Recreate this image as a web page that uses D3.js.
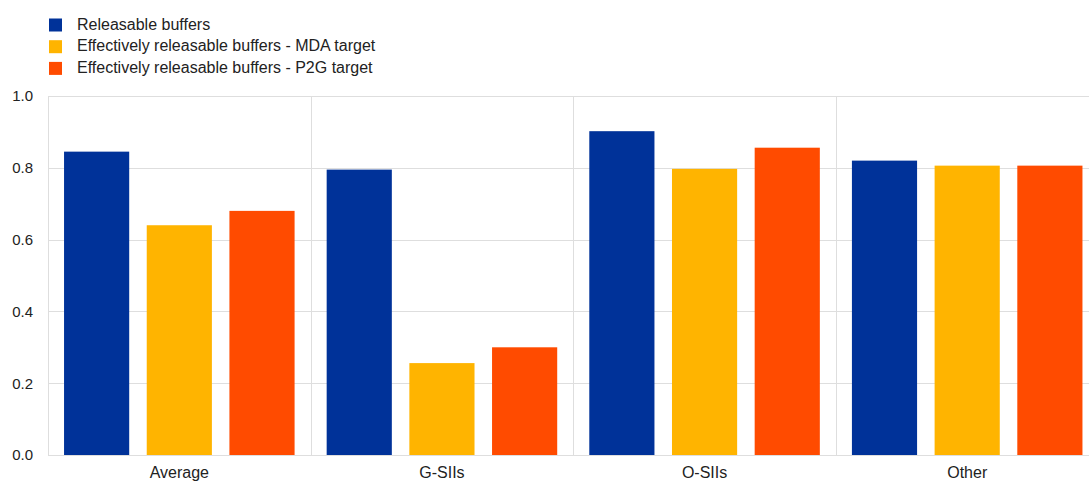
<!DOCTYPE html>
<html>
<head>
<meta charset="utf-8">
<script src="https://cdn.jsdelivr.net/npm/d3@7"></script>
<style>
  html, body { margin: 0; padding: 0; background: #fff; overflow: hidden; }
  svg { display: block; font-family: Arial, "Liberation Sans", sans-serif; }
</style>
</head>
<body>
<svg id="chart" width="1089" height="483"></svg>
<script>
// Bank groups on the x axis
const categories = ["Average", "G-SIIs", "O-SIIs", "Other"];
// Series names and their values per category
const seriesNames = [
  "Releasable buffers",
  "Effectively releasable buffers - MDA target",
  "Effectively releasable buffers - P2G target"
];
const releasable = [0.845, 0.795, 0.902, 0.82];
const mdaTarget = [0.64, 0.256, 0.797, 0.806];
const p2gTarget = [0.68, 0.30, 0.856, 0.806];
const yTicks = [0.0, 0.2, 0.4, 0.6, 0.8, 1.0];

const colors = ["#003299", "#ffb400", "#ff4b00"];
const seriesValues = [releasable, mdaTarget, p2gTarget];

const svg = d3.select("#chart");
const W = 1089, H = 483;
// the plot runs slightly past the right edge of the canvas
const plot = { left: 48, right: 1098.5, top: 96, bottom: 455 };
const fontFamily = "Arial, 'Liberation Sans', sans-serif";
const textColor = "#222";

const x0 = d3.scaleBand().domain(categories).range([plot.left, plot.right]).padding(0);
const x1 = d3.scaleBand().domain(d3.range(seriesNames.length))
  .range([0, x0.bandwidth()]).paddingInner(0.212).paddingOuter(0.194);
const y = d3.scaleLinear().domain([0, 1]).range([plot.bottom, plot.top]);

const grid = "#dedede";

// horizontal gridlines
svg.append("g").selectAll("line").data(yTicks).join("line")
  .attr("x1", plot.left).attr("x2", plot.right)
  .attr("y1", d => Math.round(y(d)) + 0.5).attr("y2", d => Math.round(y(d)) + 0.5)
  .attr("stroke", grid).attr("stroke-width", 1);

// vertical category separators
const seps = categories.map(c => x0(c));
svg.append("g").selectAll("line").data(seps).join("line")
  .attr("x1", d => Math.round(d) + 0.5).attr("x2", d => Math.round(d) + 0.5)
  .attr("y1", y(1)).attr("y2", y(0))
  .attr("stroke", grid).attr("stroke-width", 1);

// bars
const groups = svg.append("g").selectAll("g").data(categories).join("g")
  .attr("transform", c => `translate(${x0(c)},0)`);
groups.selectAll("rect")
  .data((c, ci) => seriesValues.map((vals, si) => ({ si, v: vals[ci] })))
  .join("rect")
  .attr("x", d => x1(d.si))
  .attr("width", x1.bandwidth())
  .attr("y", d => y(d.v))
  .attr("height", d => y(0) - y(d.v))
  .attr("fill", d => colors[d.si]);

// y axis
const yAxis = d3.axisLeft(y).tickValues(yTicks).tickFormat(d3.format(".1f")).tickSize(0).tickPadding(15);
const ya = svg.append("g").attr("transform", `translate(${plot.left},0)`).call(yAxis);
ya.select(".domain").remove();
ya.selectAll("text").attr("font-size", 15).attr("fill", textColor).style("font-family", fontFamily);

// x axis
const xAxis = d3.axisBottom(x0).tickSize(0).tickPadding(12);
const xa = svg.append("g").attr("transform", `translate(0,${y(0)})`).call(xAxis);
xa.select(".domain").remove();
xa.selectAll("text").attr("font-size", 16).attr("fill", textColor).style("font-family", fontFamily);

// legend
const legend = svg.append("g").selectAll("g").data(seriesNames).join("g")
  .attr("transform", (d, i) => `translate(49,${24 + i * 21.7})`);
legend.append("rect").attr("x", 0).attr("y", -5.5).attr("width", 13).attr("height", 13)
  .attr("fill", (d, i) => colors[i]);
legend.append("text").attr("x", 28).attr("y", 0).attr("dy", "0.35em")
  .attr("font-size", 16).attr("fill", textColor).style("font-family", fontFamily).text(d => d);
</script>
</body>
</html>
